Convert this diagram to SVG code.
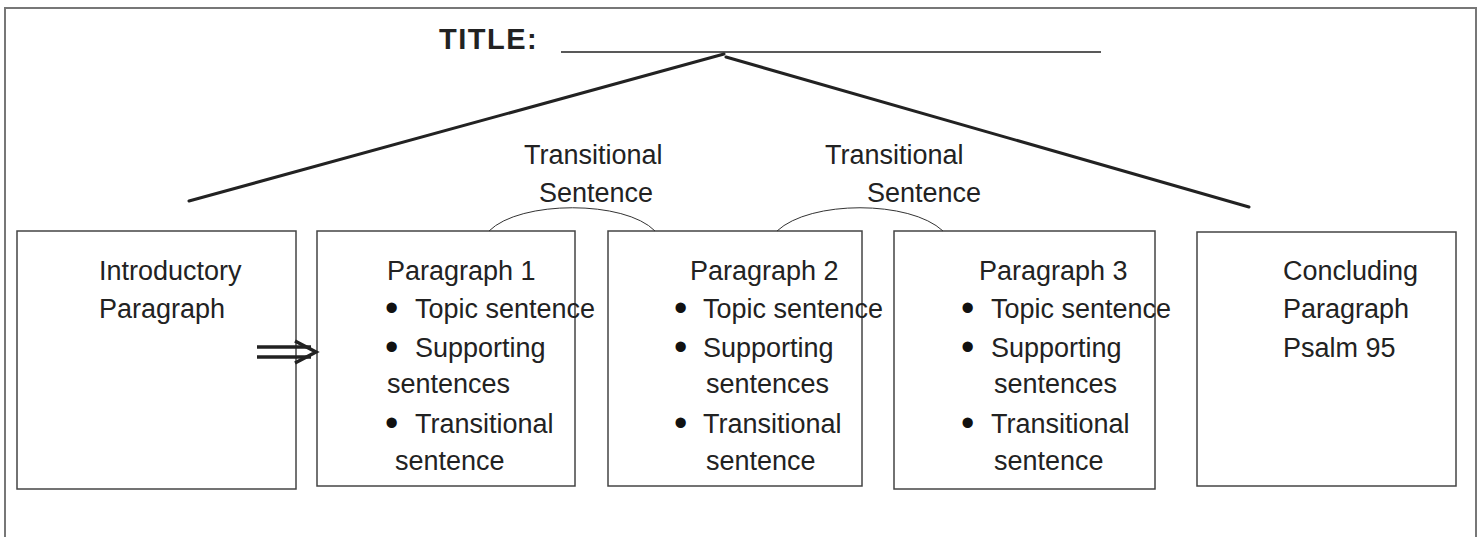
<svg xmlns="http://www.w3.org/2000/svg" width="1481" height="537" viewBox="0 0 1481 537">
<style>
.box{fill:#fff;stroke:#444;stroke-width:1.5}
.t{font-family:"Liberation Sans",Arial,sans-serif;font-size:27px;fill:#222}
.b{font-family:"Liberation Sans",Arial,sans-serif;font-size:38px;fill:#111}
.title{font-family:"Liberation Sans",Arial,sans-serif;font-size:29px;font-weight:bold;fill:#222;letter-spacing:1.5px}
.thick{stroke:#222;stroke-width:3;fill:none;stroke-linecap:round}
.arc{stroke:#333;stroke-width:1;fill:none}
</style>
<rect width="1481" height="537" fill="#fff"/>
<path d="M5 545 V8 H1476 V545" fill="none" stroke="#777" stroke-width="2"/>
<g id="title">
<text class="title" x="439" y="49">TITLE:</text>
<line x1="561" y1="52" x2="1101" y2="52" stroke="#222" stroke-width="1.5"/>
</g>
<g id="trans1">
<text class="t" x="524" y="164">Transitional</text>
<text class="t" x="539" y="202">Sentence</text>
</g>
<g id="trans2">
<text class="t" x="825" y="164">Transitional</text>
<text class="t" x="867" y="202">Sentence</text>
</g>
<g id="intro">
<rect class="box" x="17" y="231" width="279" height="258"/>
<text class="t" x="99" y="280">Introductory</text>
<text class="t" x="99" y="318">Paragraph</text>
</g>
<g id="p1">
<rect class="box" x="317" y="231" width="258" height="255"/>
<text class="t" x="387" y="280">Paragraph 1</text>
<text class="b" x="385" y="321">•</text>
<text class="t" x="415" y="318">Topic sentence</text>
<text class="b" x="385" y="360">•</text>
<text class="t" x="415" y="357">Supporting</text>
<text class="t" x="387" y="393">sentences</text>
<text class="b" x="385" y="436">•</text>
<text class="t" x="415" y="433">Transitional</text>
<text class="t" x="395" y="470">sentence</text>
</g>
<g id="p2">
<rect class="box" x="608" y="231" width="254" height="255"/>
<text class="t" x="690" y="280">Paragraph 2</text>
<text class="b" x="674" y="321">•</text>
<text class="t" x="703" y="318">Topic sentence</text>
<text class="b" x="674" y="360">•</text>
<text class="t" x="703" y="357">Supporting</text>
<text class="t" x="706" y="393">sentences</text>
<text class="b" x="674" y="436">•</text>
<text class="t" x="703" y="433">Transitional</text>
<text class="t" x="706" y="470">sentence</text>
</g>
<g id="p3">
<rect class="box" x="894" y="231" width="261" height="258"/>
<text class="t" x="979" y="280">Paragraph 3</text>
<text class="b" x="961" y="321">•</text>
<text class="t" x="991" y="318">Topic sentence</text>
<text class="b" x="961" y="360">•</text>
<text class="t" x="991" y="357">Supporting</text>
<text class="t" x="994" y="393">sentences</text>
<text class="b" x="961" y="436">•</text>
<text class="t" x="991" y="433">Transitional</text>
<text class="t" x="994" y="470">sentence</text>
</g>
<g id="concl">
<rect class="box" x="1197" y="232" width="259" height="254"/>
<text class="t" x="1283" y="280">Concluding</text>
<text class="t" x="1283" y="318">Paragraph</text>
<text class="t" x="1283" y="357">Psalm 95</text>
</g>
<g id="connectors">
<line class="thick" x1="189" y1="201" x2="724" y2="54"/>
<line class="thick" x1="726" y1="57" x2="1249" y2="207"/>
<path class="arc" d="M489 231 C520 200 625 200 655 231"/>
<path class="arc" d="M777 231 C810 200 910 200 943 231"/>
<g id="arrow" stroke="#222" stroke-width="3.5" fill="none">
<line x1="257" y1="347" x2="311" y2="347"/>
<line x1="257" y1="357" x2="311" y2="357"/>
<path d="M295 341 L316 352 L295 363"/>
</g>
</g>
</svg>
